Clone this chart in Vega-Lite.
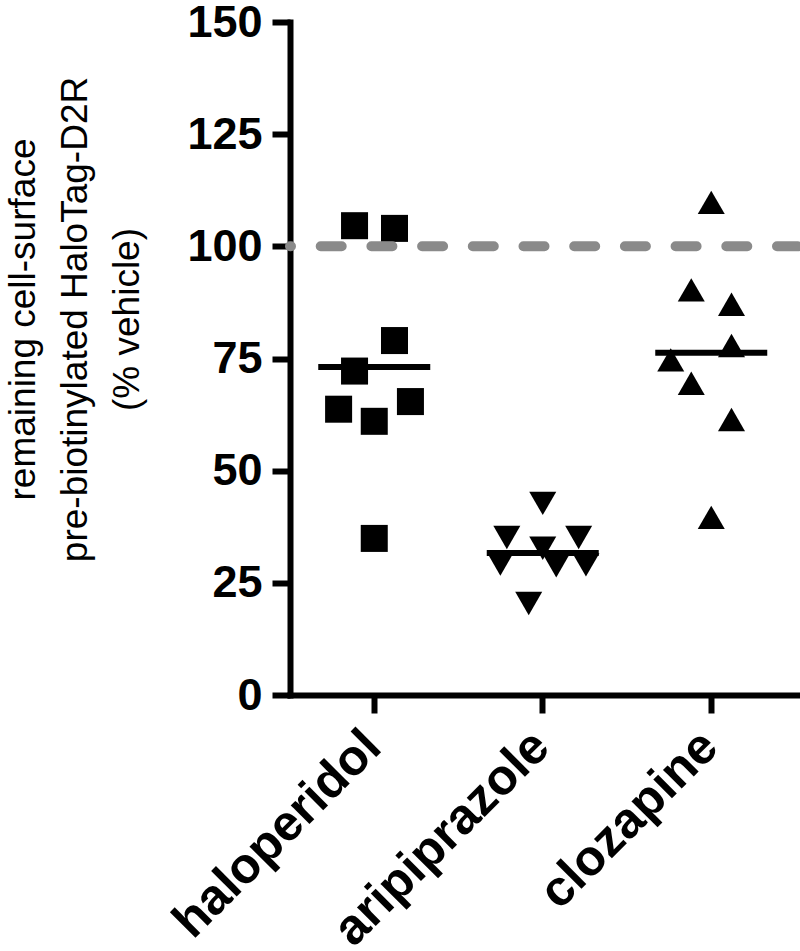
{
  "$schema": "https://vega.github.io/schema/vega-lite/v6.json",
  "width": 510,
  "height": 673,
  "autosize": {"type": "none"},
  "padding": {"left": 290, "top": 22, "right": 0, "bottom": 256},
  "background": "white",
  "config": {"view": {"stroke": null}, "font": "Liberation Sans"},
  "data": {"values": [
    {"drug": "haloperidol", "value": 104.6, "jitter": -0.73},
    {"drug": "haloperidol", "value": 104.0, "jitter": 0.75},
    {"drug": "haloperidol", "value": 79.0, "jitter": 0.75},
    {"drug": "haloperidol", "value": 72.2, "jitter": -0.73},
    {"drug": "haloperidol", "value": 63.7, "jitter": -1.32},
    {"drug": "haloperidol", "value": 61.0, "jitter": 0},
    {"drug": "haloperidol", "value": 65.4, "jitter": 1.34},
    {"drug": "haloperidol", "value": 34.9, "jitter": 0},
    {"drug": "aripiprazole", "value": 42.7, "jitter": 0},
    {"drug": "aripiprazole", "value": 35.1, "jitter": -1.33},
    {"drug": "aripiprazole", "value": 32.7, "jitter": 0},
    {"drug": "aripiprazole", "value": 35.1, "jitter": 1.33},
    {"drug": "aripiprazole", "value": 29.2, "jitter": -1.57},
    {"drug": "aripiprazole", "value": 28.8, "jitter": 0.5},
    {"drug": "aripiprazole", "value": 29.0, "jitter": 1.6},
    {"drug": "aripiprazole", "value": 20.4, "jitter": -0.52},
    {"drug": "clozapine", "value": 109.8, "jitter": 0},
    {"drug": "clozapine", "value": 90.3, "jitter": -0.74},
    {"drug": "clozapine", "value": 87.1, "jitter": 0.75},
    {"drug": "clozapine", "value": 77.9, "jitter": 0.75},
    {"drug": "clozapine", "value": 74.7, "jitter": -1.5},
    {"drug": "clozapine", "value": 69.5, "jitter": -0.74},
    {"drug": "clozapine", "value": 61.4, "jitter": 0.75},
    {"drug": "clozapine", "value": 39.6, "jitter": 0}
  ]},
  "layer": [
    {
      "mark": {"type": "point", "filled": true, "opacity": 1, "size": 730, "strokeWidth": 0, "color": "black"},
      "encoding": {
        "x": {
          "field": "drug", "type": "nominal",
          "sort": ["haloperidol", "aripiprazole", "clozapine"],
          "scale": {"paddingInner": 0, "paddingOuter": 0.01335, "align": 0},
          "axis": {
            "title": null,
            "labelAngle": -45,
            "labelLimit": 0,
            "labelFont": "Liberation Sans",
            "labelFontSize": 50,
            "labelFontWeight": "bold",
            "labelColor": "black",
            "labelPadding": 8,
            "labelOffset": -19,
            "domainColor": "black",
            "domainWidth": 6,
            "domainCap": "square",
            "tickColor": "black",
            "tickWidth": 6,
            "tickSize": 18,
            "grid": false
          }
        },
        "xOffset": {"field": "jitter", "type": "quantitative", "scale": {"domain": [-3.12, 3.12]}},
        "y": {
          "field": "value", "type": "quantitative",
          "scale": {"domain": [0, 150], "nice": false},
          "axis": {
            "values": [0, 25, 50, 75, 100, 125, 150],
            "title": ["remaining cell-surface", "pre-biotinylated HaloTag-D2R", "(% vehicle)"],
            "titleFont": "Liberation Sans",
            "titleFontSize": 37,
            "titleFontWeight": "normal",
            "titleColor": "black",
            "titleLineHeight": 52,
            "titleY": 297,
            "titlePadding": 40,
            "labelFont": "Liberation Sans",
            "labelFontSize": 45,
            "labelFontWeight": "bold",
            "labelColor": "black",
            "labelPadding": 10,
            "domainColor": "black",
            "domainWidth": 6,
            "domainCap": "square",
            "tickColor": "black",
            "tickWidth": 6,
            "tickSize": 18,
            "grid": false
          }
        },
        "shape": {
          "field": "drug", "type": "nominal",
          "scale": {"domain": ["haloperidol", "aripiprazole", "clozapine"], "range": ["square", "triangle-down", "triangle-up"]},
          "legend": null
        }
      }
    },
    {
      "mark": {"type": "tick", "color": "black", "opacity": 1, "size": 112, "thickness": 6},
      "encoding": {
        "x": {"field": "drug", "type": "nominal", "sort": ["haloperidol", "aripiprazole", "clozapine"]},
        "y": {"aggregate": "mean", "field": "value", "type": "quantitative"}
      }
    },
    {
      "data": {"values": [{"reference": 100}]},
      "mark": {"type": "rule", "color": "#8a8a8a", "strokeWidth": 10, "strokeDash": [21, 29.7], "strokeCap": "round", "strokeDashOffset": -2},
      "encoding": {"y": {"field": "reference", "type": "quantitative"}}
    }
  ]
}
